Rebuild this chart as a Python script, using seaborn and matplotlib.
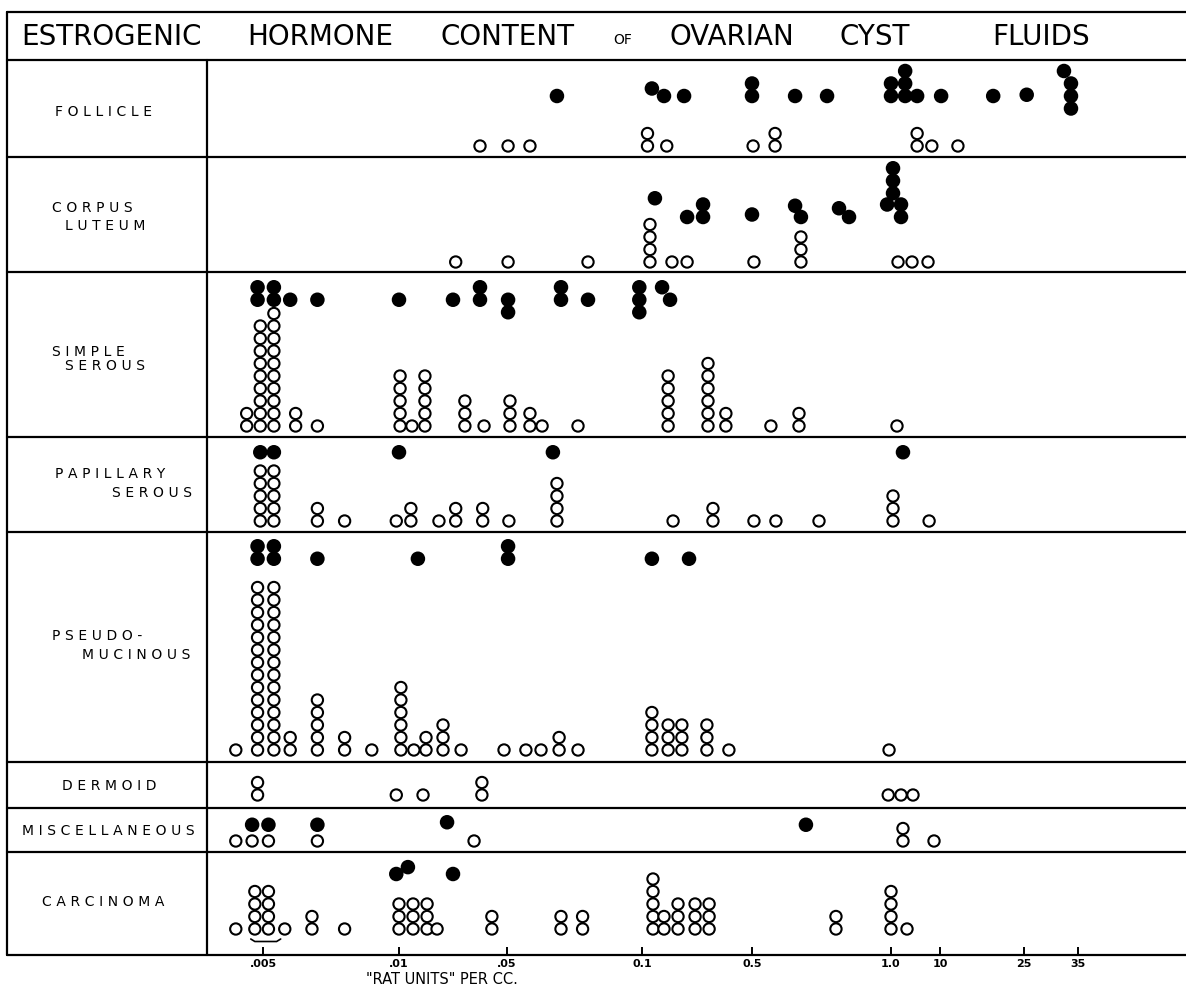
import numpy as np
import pandas as pd
import matplotlib
matplotlib.use("Agg")
import matplotlib.pyplot as plt
from matplotlib.lines import Line2D
import seaborn as sns

# ---- data: "rat units" per cc ----
# open circles: (units, number stacked)   filled dots: (units, number stacked, start level above row base)
follicle_open = [(0.04, 1), (0.0504, 1), (0.0585, 1), (0.12, 2), (0.19, 1), (0.504, 1),
                 (0.583, 2), (5.8, 2), (8.5, 1), (13.2, 1)]
follicle_filled = [(0.0685, 1, 0), (0.136, 1, 0.6), (0.18, 1, 0), (0.253, 1, 0), (0.5, 2, 0),
                   (0.655, 1, 0), (0.77, 1, 0), (1.0, 2, 0), (3.6, 3, 0), (5.8, 1, 0),
                   (10.2, 1, 0), (19.5, 1, 0), (25.5, 1, 0.1), (33.7, 3, -1), (32.4, 1, 2)]

corpus_open = [(0.031, 1), (0.0504, 1), (0.08, 1), (0.129, 4), (0.209, 1), (0.264, 1),
               (0.507, 1), (0.676, 3), (2.29, 1), (4.86, 1), (7.8, 1)]
corpus_filled = [(0.147, 1, 1.5), (0.264, 1, 0), (0.322, 2, 0), (0.5, 1, 0.2), (0.655, 1, 0.9),
                 (0.676, 1, 0), (0.813, 1, 0.7), (0.849, 1, 0), (1.37, 3, 1.9),
                 (0.986, 1, 1), (2.84, 2, 0)]

simple_open = [(0.0044, 2), (0.0049, 9), (0.0054, 10), (0.0062, 2), (0.007, 1), (0.0104, 5),
               (0.0148, 1), (0.0196, 5), (0.0344, 3), (0.0415, 1), (0.0511, 3), (0.0585, 2),
               (0.063, 1), (0.0763, 1), (0.195, 5), (0.34, 6), (0.405, 2), (0.568, 1),
               (0.669, 2), (2.1, 1)]
simple_filled = [(0.0048, 2, 0), (0.0054, 2, 0), (0.006, 1, 0), (0.007, 1, 0), (0.01, 1, 0),
                 (0.03, 1, 0), (0.04, 2, 0), (0.0504, 2, -1), (0.07, 2, 0), (0.08, 1, 0),
                 (0.099, 3, -1), (0.173, 1, 1), (0.202, 1, 0)]

papillary_open = [(0.0049, 5), (0.0054, 5), (0.007, 2), (0.008, 1), (0.0099, 1), (0.0144, 2),
                  (0.0248, 1), (0.031, 2), (0.041, 2), (0.0507, 1), (0.0685, 4), (0.213, 1),
                  (0.358, 2), (0.507, 1), (0.586, 1), (0.741, 1), (1.37, 3), (8.0, 1)]
papillary_filled = [(0.0049, 1, 0), (0.0054, 1, 0), (0.01, 1, 0), (0.067, 1, 0), (3.2, 1, 0)]

pseudo_open = [(0.004, 1), (0.0048, 14), (0.0054, 14), (0.006, 2), (0.007, 5), (0.008, 2),
               (0.009, 1), (0.0107, 6), (0.0155, 1), (0.02, 2), (0.0263, 3), (0.033, 1),
               (0.0489, 1), (0.057, 1), (0.0626, 1), (0.0693, 2), (0.0763, 1), (0.136, 4),
               (0.195, 3), (0.245, 3), (0.336, 3), (0.416, 1), (0.993, 1)]
pseudo_filled = [(0.0048, 2, 0), (0.0054, 2, 0), (0.007, 1, 0), (0.017, 1, 0), (0.0504, 2, 0),
                 (0.136, 1, 0), (0.271, 1, 0)]

dermoid_open = [(0.0048, 2), (0.0099, 1), (0.0189, 1), (0.0407, 2), (0.99, 1), (2.84, 1), (5.04, 1)]
dermoid_filled = []

misc_open = [(0.004, 1), (0.0046, 1), (0.0052, 1), (0.007, 1), (0.0378, 1), (3.2, 2), (8.9, 1)]
misc_filled = [(0.0046, 1, 0), (0.0052, 1, 0), (0.007, 1, 0), (0.0278, 1, 0.2), (0.694, 1, 0)]

carcinoma_open = [(0.004, 1), (0.0047, 4), (0.0052, 4), (0.0058, 1), (0.0068, 2), (0.008, 1),
                  (0.01, 3), (0.0152, 3), (0.0204, 3), (0.0241, 1), (0.0444, 2), (0.07, 2),
                  (0.078, 2), (0.14, 5), (0.18, 2), (0.231, 3), (0.293, 3), (0.344, 3),
                  (0.802, 2), (1.0, 4), (3.94, 1)]
carcinoma_filled = [(0.0099, 1, 0), (0.0133, 1, 0.55), (0.03, 1, 0)]

row_labels = [["FOLLICLE"], ["CORPUS", "LUTEUM"], ["SIMPLE", "SEROUS"], ["PAPILLARY", "SEROUS"],
              ["PSEUDO-", "MUCINOUS"], ["DERMOID"], ["MISCELLANEOUS"], ["CARCINOMA"]]
row_open = [follicle_open, corpus_open, simple_open, papillary_open, pseudo_open,
            dermoid_open, misc_open, carcinoma_open]
row_filled = [follicle_filled, corpus_filled, simple_filled, papillary_filled, pseudo_filled,
              dermoid_filled, misc_filled, carcinoma_filled]

tick_values = [0.005, 0.01, 0.05, 0.1, 0.5, 1.0, 10, 25, 35]
tick_labels = [".005", ".01", ".05", "0.1", "0.5", "1.0", "10", "25", "35"]

# ---- layout (pixels of a 1186 x 989 canvas) ----
W, H = 1186, 989
row_edges = [60, 157, 272, 437, 532, 762, 808, 852, 955]
row_pad = [11, 10, 11, 11, 12, 13, 11, 26]          # bottom line to first circle centre
filled_base = [4.0, 3.6, 10.1, 5.5, 15.3, 0, 1.3, 4.4]   # in stack levels
LEVEL = 12.5                                          # px per stacked circle
label_pos = [[(55, 112)], [(52, 208), (65, 226)], [(52, 352), (65, 366)], [(55, 474), (112, 493)],
             [(52, 636), (82, 655)], [(62, 786)], [(22, 831)], [(42, 902)]]

# hand drawn axis: piecewise scale between the printed ticks
scale_values = [0.0, 0.005, 0.01, 0.05, 0.1, 0.5, 1.0, 10, 25, 35, 60]
scale_pos = [127, 263, 399, 507, 642, 752, 891, 940, 1024, 1078, 1213]


def fwd(v):
    return np.interp(v, scale_values, scale_pos)


def inv(p):
    return np.interp(p, scale_pos, scale_values)


def fx(x):
    return x / W


def fy(y):
    return 1 - y / H


def spaced(s):
    # lettering on the chart is widely letter-spaced
    return "\u2004".join(s)


def stack_points(opens, filleds, base):
    recs = []
    for v, n in opens:
        for k in range(n):
            recs.append((v, k, "open"))
    for v, n, start in filleds:
        for k in range(n):
            recs.append((v, base + start + k, "filled"))
    return pd.DataFrame(recs, columns=["units", "level", "kind"])


sns.set_style("white")
plt.rcParams["font.family"] = ["DejaVu Sans"]
plt.rcParams["text.color"] = "black"
plt.rcParams["xtick.color"] = "black"

fig = plt.figure(figsize=(W / 100, H / 100), dpi=100)

for i in range(len(row_labels)):
    top, bottom = row_edges[i], row_edges[i + 1]
    ax = fig.add_axes([fx(207), fy(bottom), fx(W - 207), (bottom - top) / H])
    ax.set_xscale("function", functions=(fwd, inv))
    ax.set_xlim(inv(207), inv(W))
    ax.set_ylim(-row_pad[i] / LEVEL, (bottom - top - row_pad[i]) / LEVEL)
    df = stack_points(row_open[i], row_filled[i], filled_base[i])
    sns.scatterplot(data=df, x="units", y="level", hue="kind", size="kind",
                    palette={"open": "white", "filled": "black"},
                    sizes={"open": 66, "filled": 80}, edgecolor="black", linewidth=1.5,
                    legend=False, ax=ax, zorder=3, clip_on=False)
    for s in ax.spines.values():
        s.set_visible(False)
    ax.set_xlabel("")
    ax.set_ylabel("")
    ax.set_yticks([])
    if i == len(row_labels) - 1:
        ax.set_xticks(tick_values)
        ax.set_xticklabels(tick_labels, fontsize=8, fontweight="bold", color="black")
        ax.tick_params(axis="x", direction="in", length=6, width=1.4, pad=3, bottom=True)
        # brace under the .005 group
        ax.plot([0.00455, 0.0047, 0.0055, 0.00565], [-0.8, -1.0, -1.0, -0.8],
                color="black", lw=1.2)
    else:
        ax.set_xticks([])
    ax.xaxis.set_minor_locator(matplotlib.ticker.NullLocator())

    for (lx, ly), txt in zip(label_pos[i], row_labels[i]):
        fig.text(fx(lx), fy(ly), spaced(txt), fontsize=10, ha="left", va="center",
                 color="black")

# table rules
lw = 1.6
for y in [12] + row_edges:
    fig.add_artist(Line2D([fx(7), 1], [fy(y), fy(y)], color="black", lw=lw))
fig.add_artist(Line2D([fx(7), fx(7)], [fy(12), fy(955)], color="black", lw=lw))
fig.add_artist(Line2D([fx(207), fx(207)], [fy(60), fy(955)], color="black", lw=lw))

# title, word by word as lettered
title_words = [("ESTROGENIC", 111, 20), ("HORMONE", 320, 20), ("CONTENT", 507, 20), ("OF", 623, 10),
               ("OVARIAN", 732, 20), ("CYST", 875, 20), ("FLUIDS", 1041, 20)]
for word, x, size in title_words:
    fig.text(fx(x), fy(37 if size > 10 else 40), word, fontsize=size, ha="center",
             va="center", color="black")

fig.text(fx(442), fy(980), '"RAT UNITS" PER CC.', fontsize=10.5, ha="center", va="center",
         color="black")

fig.savefig("out.png", dpi=100)
